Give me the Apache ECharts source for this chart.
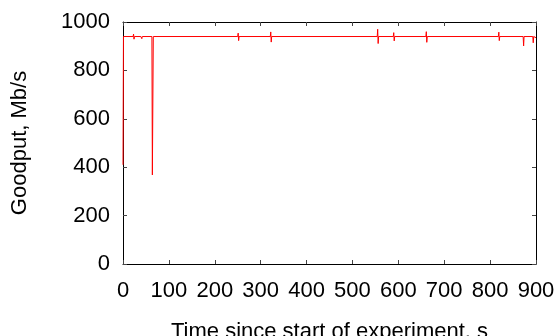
<!DOCTYPE html>
<html>
<head>
<meta charset="utf-8">
<script src="https://cdn.jsdelivr.net/npm/echarts@6/dist/echarts.min.js"></script>
<style>
  html, body { margin: 0; padding: 0; background: #fff; }
  #chart { width: 558px; height: 336px; }
</style>
</head>
<body>
<div id="chart"></div>
<script>
// Goodput samples over the run (seconds, Mb/s)
var timeSec = [0, 1, 22, 23, 24, 25, 39, 40, 41, 42, 63, 64, 65, 66,
  250, 251, 252, 253, 321, 322, 323, 324, 554, 555, 556, 557,
  589, 590, 591, 592, 660, 661, 662, 663, 818, 819, 820, 821,
  872, 873, 874, 893, 894, 895, 900];
var goodput = [410, 940, 940, 950, 929, 940, 940, 947, 931, 940, 940, 368, 365, 940,
  940, 954, 923, 940, 940, 959, 917, 940, 940, 970, 911, 940,
  940, 956, 922, 940, 940, 960, 916, 940, 940, 958, 923, 940,
  940, 901, 940, 940, 914, 940, 935];

var xTicks = [0, 900, 100];   // min, max, step
var yTicks = [0, 1000, 200];

var points = timeSec.map(function (t, i) { return [t, goodput[i]]; });

var font = 'Liberation Sans, Arial, sans-serif';
var axisLine = { show: true, onZero: false, lineStyle: { color: '#000', width: 1 } };
var tick = { show: true, inside: true, length: 4, lineStyle: { color: '#444', width: 1 } };
var plain = function (v) { return String(v); };

var chart = echarts.init(document.getElementById('chart'), null, { renderer: 'canvas' });
chart.setOption({
  animation: false,
  backgroundColor: '#fff',
  grid: { left: 123, top: 22, right: 22, bottom: 72, show: false,
          containLabel: false, outerBoundsMode: 'none' },
  xAxis: [{
    type: 'value', position: 'bottom',
    min: xTicks[0], max: xTicks[1], interval: xTicks[2],
    name: 'Time since start of experiment, s',
    nameLocation: 'middle', nameGap: 57,
    nameTextStyle: { color: '#000', fontSize: 22, fontFamily: font },
    axisLine: axisLine, axisTick: tick,
    axisLabel: { color: '#000', fontSize: 22, fontFamily: font, margin: 16, formatter: plain },
    splitLine: { show: false }
  }, {
    type: 'value', position: 'top',
    min: xTicks[0], max: xTicks[1], interval: xTicks[2],
    axisLine: axisLine, axisTick: tick,
    axisLabel: { show: false }, splitLine: { show: false }
  }],
  yAxis: [{
    type: 'value', position: 'left',
    min: yTicks[0], max: yTicks[1], interval: yTicks[2],
    name: 'Goodput, Mb/s',
    nameLocation: 'middle', nameGap: 92, nameRotate: 90,
    nameTextStyle: { color: '#000', fontSize: 22, fontFamily: font },
    axisLine: axisLine, axisTick: tick,
    axisLabel: { color: '#000', fontSize: 22, fontFamily: font, margin: 13, formatter: plain },
    splitLine: { show: false }
  }, {
    type: 'value', position: 'right',
    min: yTicks[0], max: yTicks[1], interval: yTicks[2],
    axisLine: axisLine, axisTick: tick,
    axisLabel: { show: false }, splitLine: { show: false }
  }],
  series: [{
    type: 'line',
    xAxisIndex: 0, yAxisIndex: 0,
    data: points,
    showSymbol: false,
    lineStyle: { color: '#ff0000', width: 1 },
    itemStyle: { color: '#ff0000' }
  }]
});
</script>
</body>
</html>
